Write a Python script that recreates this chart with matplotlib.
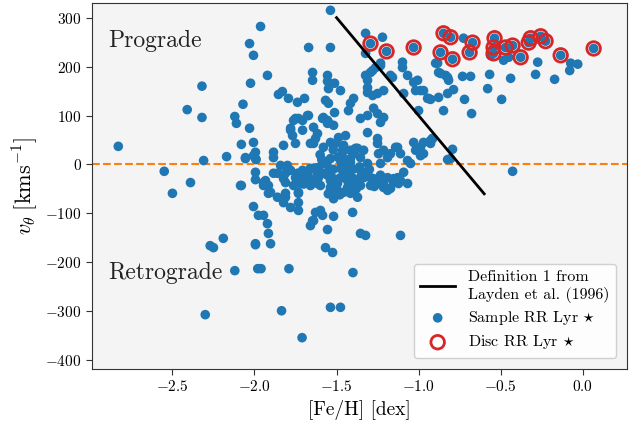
import numpy as np
import matplotlib
matplotlib.use('Agg')
import matplotlib.pyplot as plt

plt.rcParams['font.family'] = 'serif'
plt.rcParams['font.serif'] = ['cmr10']
plt.rcParams['mathtext.fontset'] = 'cm'
plt.rcParams['axes.formatter.use_mathtext'] = True

# [Fe/H] and v_theta of the whole sample
feh = [-1.963, -2.03, -2.006, -1.921, -2.024, -2.32, -2.41, -2.32, -2.07, -2.12, -2.11, -2.03,
       -1.537, -1.67, -1.537, -1.646, -1.646, -1.555, -1.555, -1.512, -1.476, -1.549,
       -1.83, -1.854, -1.793, -1.738, -1.695, -1.567, -1.549, -1.512, -1.555, -1.58,
       -1.415, -1.396, -1.427, -1.354, -1.311, -1.274, -1.25, -1.213, -1.75, -1.707, -1.671, -1.78,
       -1.311, -1.311, -1.28, -1.213, -1.25, -1.311, -1.293, -1.262,
       -1.323, -1.22, -1.323, -1.293, -1.195, -1.232, -1.159, -1.098, -1.098, -1.03, -1.067, -1.006,
       -0.97, -1.018, -0.945, -1.0, -1.091, -1.323, -1.28, -1.232, -1.171, -1.03, -0.988, -0.939,
       -0.884, -0.866, -0.823, -0.878, -0.848, -0.823,
       -0.848, -0.805, -0.866, -0.793, -0.671, -0.689, -0.537, -0.543, -0.543, -0.47, -0.427, -0.378,
       -0.329, -0.317, -0.256, -0.226, -0.134, 0.067,
       -0.726, -0.896, -0.878, -0.835, -0.817, -0.732, -0.683, -0.567, -0.439, -0.287, -0.274, -0.171,
       -0.073, -0.03, -0.079, -0.579, -0.494, -0.787, -0.927, -0.72, -0.677, -0.561, -0.482, -0.451,
       -1.762, -1.732, -1.677, -1.78, -1.768, -1.707, -1.64, -1.585, -1.549, -1.518, -1.616, -1.628,
       -1.659, -1.75, -1.823, -1.884, -1.884, -1.994,
       -1.537, -1.488, -1.445, -1.457, -1.463, -1.415, -1.372, -1.335, -1.354, -1.311, -1.25, -1.25,
       -1.213, -1.171, -1.128, -1.189, -1.03, -0.97, -0.915, -1.018, -0.805, -1.067, -1.476, -1.415, -1.537,
       -1.555, -1.232, -1.64, -1.506, -1.463, -1.384, -1.433, -1.244, -1.14, -1.11, -0.988, -0.97, -0.927,
       -1.86, -1.823, -1.78, -1.738, -1.701, -1.659, -1.61, -1.555, -1.518, -1.476, -1.433, -1.396,
       -1.354, -1.311, -1.274, -1.232, -1.189, -1.152, -1.11, -1.067, -1.25, -1.293, -1.354, -1.433,
       -1.494, -1.537, -1.598, -1.659, -1.72, -1.762, -1.171, -1.213, -1.415, -1.457, -1.518, -1.732,
       -1.811, -1.86, -1.933, -1.945, -1.902,
       -1.884, -1.841, -1.799, -1.811, -1.811, -1.75, -1.707, -1.677, -1.64, -1.61, -1.616, -1.579,
       -1.537, -1.537, -1.537, -1.518, -1.494, -1.476, -1.457, -1.433, -1.415, -1.396, -1.372, -1.372,
       -1.415, -1.354, -1.335, -1.311, -1.293, -1.232, -1.213, -1.189, -1.152, -1.128, -1.122, -1.091,
       -1.049, -0.988,
       -2.085, -2.055, -2.006, -1.994, -1.994, -1.994, -1.945, -1.915, -1.915, -1.811, -1.823, -1.78,
       -1.732, -1.732, -1.945, -1.976, -1.921, -1.915, -1.902, -1.994, -2.006, -1.659, -1.64, -1.598,
       -1.585, -1.555, -1.567, -1.524, -1.518, -1.402, -1.354, -1.323, -1.11, -1.732, -1.628, -1.646,
       -2.83, -2.55, -2.5, -2.39, -2.31, -2.17, -2.08, -2.006, -2.055, -1.99, -2.08, -2.27, -2.25,
       -2.19, -1.994, -2.12, -1.98, -2.3, -1.96, -1.79, -1.4, -1.835, -1.537, -1.476, -1.71,
       -0.915, -0.927, -0.793, -0.823, -0.427,
       # dense core around [Fe/H] ~ -1.5
       -1.59, -1.56, -1.52, -1.49, -1.47, -1.44, -1.40, -1.36, -1.62, -1.66, -1.70, -1.55,
       -1.50, -1.48, -1.43, -1.38, -1.30, -1.27, -1.58, -1.52, -1.45, -1.60]
vtheta = [282, 247, 223, 182, 166, 160, 112, 96, 123, 98, 84, 74,
          315, 239, 239, 188, 172, 182, 170, 166, 151, 155,
          149, 143, 135, 127, 135, 131, 125, 106, 90, 96,
          125, 135, 110, 94, 100, 115, 104, 96, 94, 90, 100, 74,
          157, 147, 141, 151, 145, 172, 188, 198,
          268, 260, 227, 247, 231, 207, 178, 209, 198, 239, 182, 172,
          151, 151, 135, 110, 145, 182, 192, 202, 182, 168, 151, 135,
          207, 186, 178, 137, 110, 145,
          268, 260, 229, 215, 249, 229, 258, 239, 227, 239, 243, 219,
          249, 258, 262, 252, 223, 237,
          258, 207, 188, 182, 172, 180, 180, 184, 176, 184, 209, 174,
          207, 205, 192, 155, 133, 153, 133, 133, 104, 223, 213, 219,
          90, 94, 100, 70, 59, 70, 76, 94, 86, 80, 63, 53,
          43, 43, 39, 25, 14, 25,
          45, 55, 59, 39, 29, 29, 33, 29, 14, 65, 53, 43,
          29, 22, 35, 14, 45, 45, 53, 29, 12, 8, 8, 4, 12,
          84, 86, 43, 43, 25, 33, 8, 22, 35, 22, 35, 22, 49,
          -18, -29, -12, -18, -27, -29, -27, -22, -29, -27, -33, -29,
          -27, -22, -29, -22, -27, -29, -33, -39, -39, -43, -43, -47,
          -53, -47, -43, -43, -39, -43, -49, -47, -59, -57, -59, -57,
          -67, -67, -33, -43, -57,
          -18, -2, -2, -18, -37, -27, -12, -18, -8, -6, -39, -18,
          -12, -33, -53, -70, -39, -8, -27, 2, 12, 22, -33, -67,
          -39, -12, -27, 2, -27, 2, -39, -53, -37, -27, -39, -16,
          2, 18,
          -43, 14, 18, 12, -16, -31, -37, -43, -59, -59, -78, -88,
          -94, -59, -104, -104, -121, -141, -162, -162, -86, -125, -115, -94,
          -104, -133, -170, -180, -106, -98, -141, -145, -145, -78, -98, -115,
          37, -14, -59, -37, 8, 16, 41, 45, 12, 10, -43, -166, -170,
          -151, -164, -217, -213, -307, -213, -213, -221, -299, -292, -292, -354,
          53, 43, 31, 10, -14,
          10, 0, -10, 15, -5, -15, -10, -5, -15, -8, -40, -60,
          -40, -62, -20, -50, -10, -45, 35, 30, 10, 20]

# disc stars (circled)
disc_feh = [-1.293, -1.195, -1.03, -0.848, -0.805, -0.866, -0.793, -0.671, -0.689, -0.537, -0.543,
            -0.543, -0.47, -0.427, -0.378, -0.329, -0.317, -0.256, -0.226, -0.134, 0.067]
disc_vtheta = [247, 231, 239, 268, 260, 229, 215, 249, 229, 258, 239,
               227, 239, 243, 219, 249, 258, 262, 252, 223, 237]

# Layden et al. (1996) definition 1
layden_feh = [-1.5, -0.6]
layden_v = [300, -60]

fig = plt.figure(figsize=(6.36, 4.25), dpi=100)
ax = fig.add_axes([0.1447, 0.1318, 0.8411, 0.8612])
ax.set_facecolor('#f4f4f4')

ax.axhline(0, color='#ff7f0e', ls='--', lw=1.5, dashes=(3.7, 1.6), zorder=1)
ax.plot(layden_feh, layden_v, color='black', lw=2, zorder=3,
        label='Definition 1 from\nLayden et al. (1996)')
ax.scatter(feh, vtheta, s=48, color='#1f77b4', edgecolors='none', zorder=2,
           label=r'Sample RR Lyr $\star$')
ax.scatter(disc_feh, disc_vtheta, s=95, facecolors='none', edgecolors='#d62728',
           linewidths=2, zorder=4, label=r'Disc RR Lyr $\star$')

ax.text(-2.89, 252, 'Prograde', fontsize=17, va='center', color='#222222')
ax.text(-2.89, -222, 'Retrograde', fontsize=17, va='center', color='#222222')

ax.set_xlim(-2.99, 0.27)
ax.set_ylim(-418, 330)
ax.set_xticks([-2.5, -2.0, -1.5, -1.0, -0.5, 0.0])
ax.set_yticks(np.arange(-400, 301, 100))
ax.tick_params(labelsize=11, direction='out', length=4, color='#333333')
for sp in ax.spines.values():
    sp.set_color('#333333')

ax.set_xlabel('[Fe/H] [dex]', fontsize=14)
ax.set_ylabel(r'$v_\theta\;[\mathrm{kms}^{-1}]$', fontsize=16)

leg = ax.legend(loc='lower right', fontsize=11.5, handlelength=2.2, labelspacing=0.4,
                borderaxespad=0.7, framealpha=0.9, edgecolor='#cccccc')

fig.savefig('out.png', dpi=100)
